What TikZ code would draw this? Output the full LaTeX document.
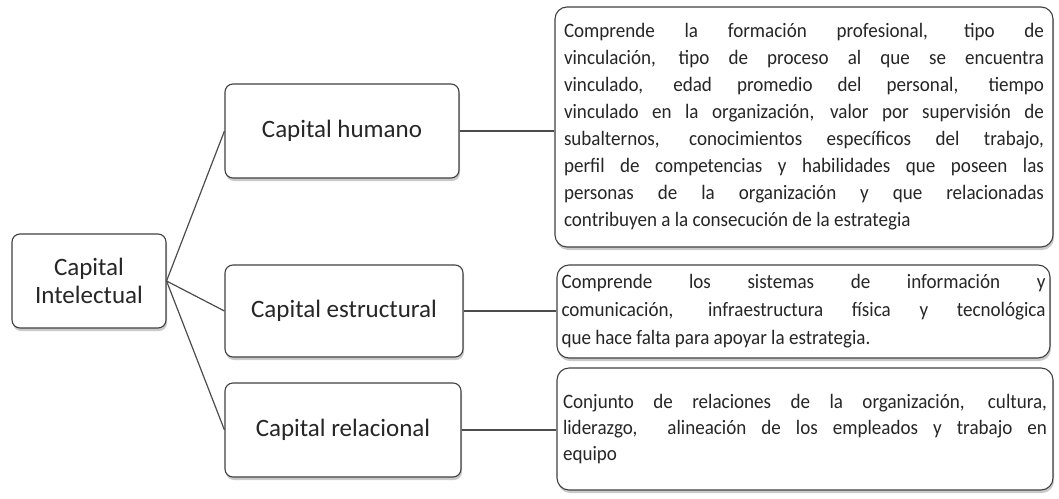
\documentclass[tikz,border=0pt]{standalone}
\usepackage{fontspec}
\setmainfont{Carlito}
\newfontfamily\descfont[FakeStretch=0.93]{Carlito}
\usepackage{tikz}
\usetikzlibrary{
  positioning,
  shadows
}

\begin{document}
\begin{tikzpicture}[
  x=1pt, y=-1pt,
  box/.style={draw=black!75, line width=1.1pt, rounded corners=8pt, fill=white,
    drop shadow={shadow xshift=1pt, shadow yshift=-3pt, fill=black!35, opacity=0.6},
    inner sep=0pt, font=\fontsize{25}{28}\selectfont, text=black!85, align=center},
  desc/.style={draw=black!75, line width=1.1pt, rounded corners=12pt, fill=white,
    drop shadow={shadow xshift=1pt, shadow yshift=-3pt, fill=black!35, opacity=0.6},
    inner sep=0pt, font=\descfont\fontsize{20.5}{27}\selectfont, text=black!85, align=justify},
  link/.style={draw=black!70, line width=1.2pt}
]
\useasboundingbox (0,0) rectangle (1059,498);

% root
\node[box, minimum width=154pt, minimum height=94pt] (intel) at (89,281)
  {Capital\\Intelectual};

% components
\node[box, minimum width=234pt, minimum height=94pt] (hum) at (342,131) {Capital humano};
\node[box, minimum width=238pt, minimum height=92pt] (est) at (344,311) {Capital estructural};
\node[box, minimum width=236pt, minimum height=94pt] (rel) at (343,430) {Capital relacional};

% descriptions
\node[desc, minimum width=498pt, minimum height=240pt, text width=480pt] (dhum) at (804,127)
  {Comprende la formación profesional, tipo de\linebreak
   vinculación, tipo de proceso al que se encuentra\linebreak
   vinculado, edad promedio del personal, tiempo\linebreak
   vinculado en la organización, valor por supervisión de\linebreak
   subalternos, conocimientos específicos del trabajo,\linebreak
   perfil de competencias y habilidades que poseen las\linebreak
   personas de la organización y que relacionadas\linebreak
   contribuyen a la consecución de la estrategia};
\node[desc, minimum width=493pt, minimum height=93pt, text width=484pt,
  font=\descfont\fontsize{20.5}{28}\selectfont] (dest) at (803.5,311.5)
  {Comprende los sistemas de información y\linebreak
   comunicación, infraestructura física y tecnológica\linebreak
   que hace falta para apoyar la estrategia.};
\node[desc, minimum width=496pt, minimum height=122pt, text width=484pt,
  font=\descfont\fontsize{20.5}{26}\selectfont] (drel) at (805,429)
  {Conjunto de relaciones de la organización, cultura,\linebreak
   liderazgo,\ \ alineación de los empleados y trabajo en\linebreak
   equipo};

% links
\draw[link] (intel.east) -- (hum.west);
\draw[link] (intel.east) -- (est.west);
\draw[link] (intel.east) -- (rel.west);
\draw[link] (hum.east) -- (hum.east -| dhum.west);
\draw[link] (est.east) -- (est.east -| dest.west);
\draw[link] (rel.east) -- (rel.east -| drel.west);

\end{tikzpicture}
\end{document}
